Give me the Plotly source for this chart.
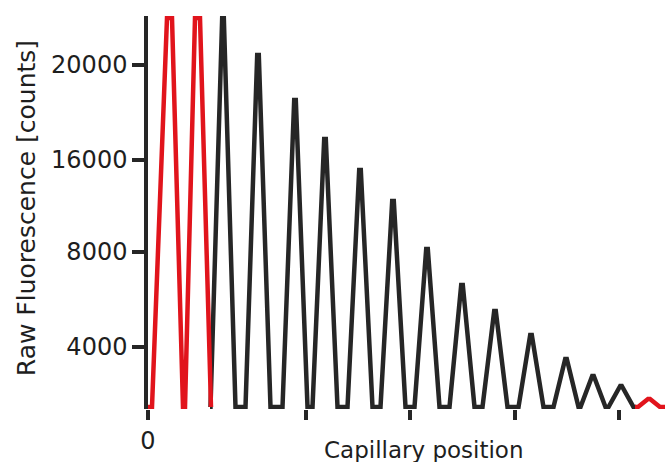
import plotly.graph_objects as go

# ---- data ----
# black trace: peak centre (capillary position units), peak height (counts)
peak_pos = [7.5, 11.0, 14.7, 17.7, 21.2, 24.5, 27.9, 31.4, 34.7, 38.3, 41.8, 44.5, 47.3]
peak_height = [22800, 20585, 17953, 15673, 13860, 12047, 9240, 7135, 5614, 4211, 2807, 1813, 1228]
peak_halfwidth = 1.25
peak_tip = 0.08
black_start = 6.2
black_end = 48.8

# red (saturated) trace at the start
red_x = [0.0, 0.4, 1.9, 2.4, 3.5, 3.7, 4.7, 5.2, 6.3]
red_y = [0, 0, 22750, 22750, 0, 0, 22750, 22750, 0]

# red small trace at the end
red_end_x = [48.7, 49.0, 50.0, 50.2, 51.2, 51.8]
red_end_y = [0, 0, 468, 468, 0, 0]

# axes
y_tick_pos = [3509, 9064, 14444, 20000]
y_tick_text = ["4000", "8000", "16000", "20000"]
x_tick_pos = [0, 15.8, 26.2, 36.7, 47.1]
x_tick_text = ["0", "", "", "", ""]
x_range = [0, 51.7]
y_range = [-117, 22866]

# ---- build black trace from peak list ----
bx = [black_start]
by = [0]
for c, h in zip(peak_pos, peak_height):
    bx += [c - peak_halfwidth, c - peak_tip, c + peak_tip, c + peak_halfwidth]
    by += [0, h, h, 0]
bx.append(black_end)
by.append(0)

BLACK = "#262626"
RED = "#e1141c"
TXT = "#1e1e1e"
FONT = "DejaVu Sans"

fig = go.Figure()
fig.add_trace(go.Scatter(x=bx, y=by, mode="lines",
                         line=dict(color=BLACK, width=4.5), hoverinfo="skip"))
fig.add_trace(go.Scatter(x=red_x, y=red_y, mode="lines",
                         line=dict(color=RED, width=4.5), hoverinfo="skip"))
fig.add_trace(go.Scatter(x=red_end_x, y=red_end_y, mode="lines",
                         line=dict(color=RED, width=4.5), hoverinfo="skip"))

fig.update_layout(
    width=665, height=462,
    margin=dict(l=148, r=0, t=16, b=53),
    paper_bgcolor="white", plot_bgcolor="white",
    showlegend=False,
    font=dict(family=FONT, color=TXT),
    xaxis=dict(range=x_range, showgrid=False, zeroline=False, showline=False,
               tickmode="array", tickvals=x_tick_pos, ticktext=x_tick_text,
               ticks="outside", ticklen=10, tickwidth=3.5, tickcolor=BLACK,
               tickfont=dict(size=24, family=FONT, color=TXT),
               layer="below traces"),
    yaxis=dict(range=y_range, showgrid=False, zeroline=False,
               showline=True, linecolor=BLACK, linewidth=3.5,
               tickmode="array", tickvals=y_tick_pos, ticktext=y_tick_text,
               ticks="outside", ticklen=12, tickwidth=3.5, tickcolor=BLACK,
               tickfont=dict(size=24, family=FONT, color=TXT),
               layer="below traces"),
    annotations=[
        dict(text="Raw Fluorescence [counts]", xref="paper", yref="paper",
             x=-0.236, y=0.511, xanchor="center", yanchor="middle",
             textangle=-90, showarrow=False,
             font=dict(size=25, family=FONT, color=TXT)),
        dict(text="Capillary position", xref="paper", yref="paper",
             x=0.534, y=-0.104, xanchor="center", yanchor="middle",
             showarrow=False, font=dict(size=23, family=FONT, color=TXT)),
    ],
)

fig.write_html("out.html")
